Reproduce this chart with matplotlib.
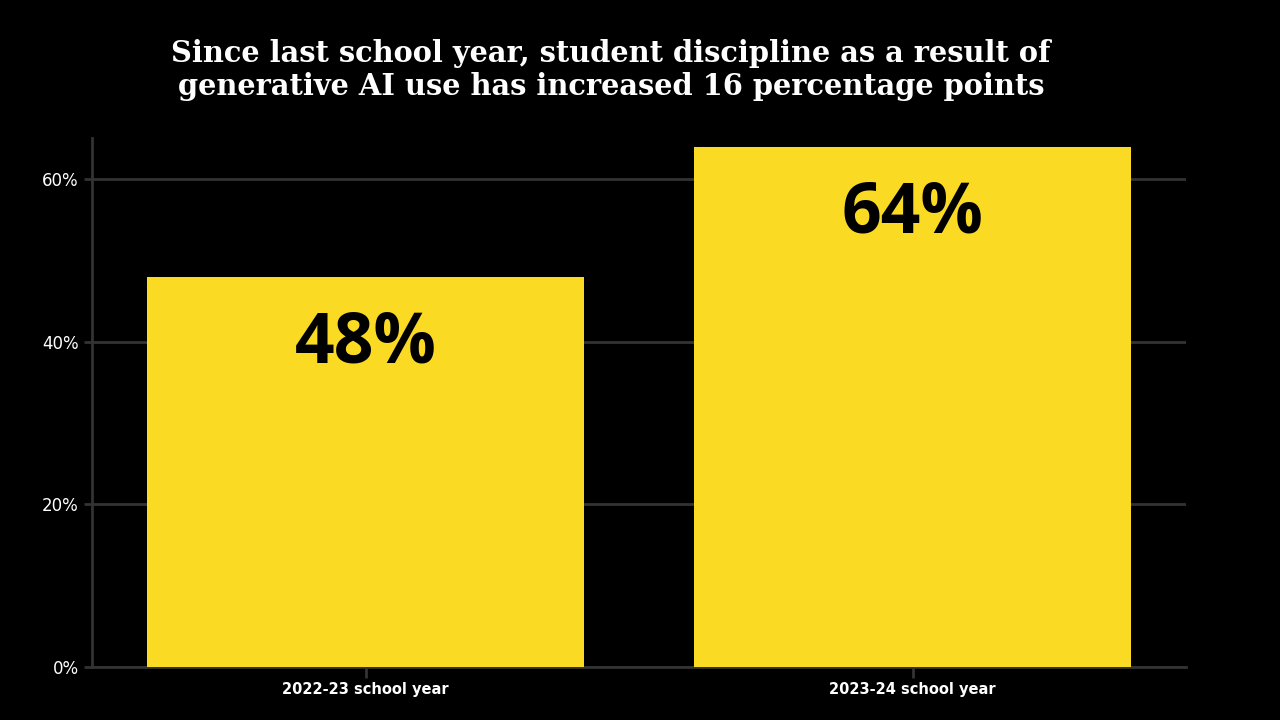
import matplotlib.pyplot as plt

# Data
categories = ['2022-23 school year', '2023-24 school year']
values = [48, 64]
bar_labels = ['48%', '64%']
yticks = [0, 20, 40, 60]
ytick_labels = ['0%', '20%', '40%', '60%']

bar_color = '#FBDA23'
grid_color = '#333333'

fig = plt.figure(figsize=(12.8, 7.2), dpi=100, facecolor='black')
ax = fig.add_axes([92 / 1280, 53 / 720, (1186 - 92) / 1280, (667 - 138) / 720])
ax.set_facecolor('black')

x = range(len(categories))
ax.bar(x, values, width=0.8, color=bar_color, zorder=3)

for xi, v, lab in zip(x, values, bar_labels):
    ax.text(xi, v - 4, lab, ha='center', va='top', color='black',
            fontsize=50, fontweight='bold', family='Open Sans', zorder=4)

ax.set_xlim(-0.5, 1.5)
ax.set_ylim(0, 65.1)
ax.set_yticks(yticks)
ax.set_yticklabels(ytick_labels)
ax.set_xticks(list(x))
ax.set_xticklabels(categories, fontweight='bold', fontsize=10.5)

ax.grid(axis='y', color=grid_color, linewidth=2, zorder=0)
for side in ['top', 'right']:
    ax.spines[side].set_visible(False)
for side in ['left', 'bottom']:
    ax.spines[side].set_color(grid_color)
    ax.spines[side].set_linewidth(2)
ax.tick_params(axis='y', colors='white', labelsize=12, length=6, width=2, color=grid_color)
ax.tick_params(axis='x', colors='white', length=8, width=2, color=grid_color, pad=3)

fig.text(611 / 1280, 1 - 70 / 720,
         'Since last school year, student discipline as a result of\n'
         'generative AI use has increased 16 percentage points',
         ha='center', va='center', color='white', fontsize=20.8, fontweight='heavy',
         family='DejaVu Serif', linespacing=1.2)

fig.savefig('out.png', dpi=100, facecolor='black')
